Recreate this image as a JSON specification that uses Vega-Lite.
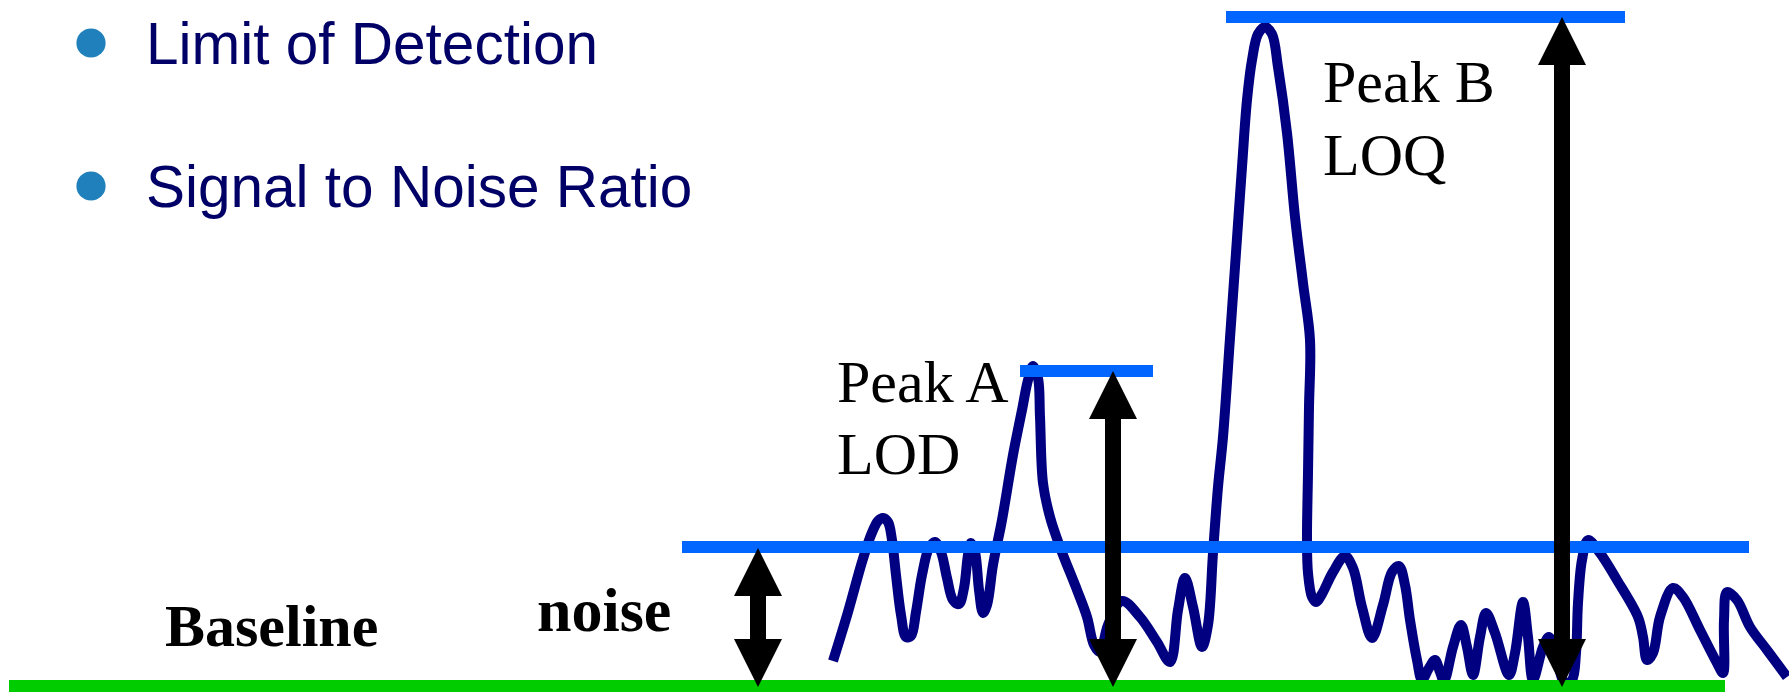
{
  "$schema": "https://vega.github.io/schema/vega-lite/v6.json",
  "width": 1789,
  "height": 692,
  "padding": 0,
  "autosize": {"type": "none"},
  "background": "white",
  "config": {"view": {"stroke": null}},
  "encoding": {
    "x": {"field": "x", "type": "quantitative", "scale": {"domain": [0, 1789], "nice": false, "zero": false}, "axis": null},
    "y": {"field": "y", "type": "quantitative", "scale": {"domain": [0, 692], "nice": false, "zero": false, "reverse": true}, "axis": null}
  },
  "layer": [
    {
      "data": {"values": [
        {"i":1,"x":833,"y":661},{"i":2,"x":848,"y":612},{"i":3,"x":862,"y":562},{"i":4,"x":871,"y":535},{"i":5,"x":878,"y":521},{"i":6,"x":883,"y":518},{"i":7,"x":888,"y":522},{"i":8,"x":892,"y":540},{"i":9,"x":896,"y":575},{"i":10,"x":901,"y":615},{"i":11,"x":906,"y":637},{"i":12,"x":911,"y":636},{"i":13,"x":916,"y":612},{"i":14,"x":922,"y":575},{"i":15,"x":929,"y":548},{"i":16,"x":935,"y":542},{"i":17,"x":941,"y":552},{"i":18,"x":947,"y":578},{"i":19,"x":953,"y":600},{"i":20,"x":959,"y":604},{"i":21,"x":964,"y":588},{"i":22,"x":968,"y":555},{"i":23,"x":971,"y":543},{"i":24,"x":975,"y":552},{"i":25,"x":979,"y":590},{"i":26,"x":983,"y":613},{"i":27,"x":987,"y":605},{"i":28,"x":993,"y":565},{"i":29,"x":1002,"y":520},{"i":30,"x":1013,"y":455},{"i":31,"x":1022,"y":410},{"i":32,"x":1028,"y":380},{"i":33,"x":1033,"y":366},{"i":34,"x":1038,"y":378},{"i":35,"x":1040,"y":417},{"i":36,"x":1043,"y":483},{"i":37,"x":1050,"y":517},{"i":38,"x":1060,"y":547},{"i":39,"x":1077,"y":590},{"i":40,"x":1087,"y":617},{"i":41,"x":1094,"y":645},{"i":42,"x":1100,"y":652},{"i":43,"x":1108,"y":625},{"i":44,"x":1122,"y":601},{"i":45,"x":1140,"y":617},{"i":46,"x":1157,"y":642},{"i":47,"x":1170,"y":662},{"i":48,"x":1178,"y":610},{"i":49,"x":1185,"y":578},{"i":50,"x":1193,"y":607},{"i":51,"x":1202,"y":647},{"i":52,"x":1208,"y":625},{"i":53,"x":1213,"y":553},{"i":54,"x":1218,"y":487},{"i":55,"x":1223,"y":437},{"i":56,"x":1230,"y":338},{"i":57,"x":1235,"y":267},{"i":58,"x":1242,"y":167},{"i":59,"x":1247,"y":100},{"i":60,"x":1252,"y":60},{"i":61,"x":1258,"y":34},{"i":62,"x":1265,"y":27},{"i":63,"x":1272,"y":34},{"i":64,"x":1278,"y":67},{"i":65,"x":1287,"y":133},{"i":66,"x":1295,"y":217},{"i":67,"x":1303,"y":283},{"i":68,"x":1310,"y":340},{"i":69,"x":1309,"y":407},{"i":70,"x":1308,"y":473},{"i":71,"x":1307,"y":540},{"i":72,"x":1308,"y":573},{"i":73,"x":1312,"y":597},{"i":74,"x":1316,"y":602},{"i":75,"x":1322,"y":594},{"i":76,"x":1333,"y":572},{"i":77,"x":1345,"y":556},{"i":78,"x":1353,"y":568},{"i":79,"x":1362,"y":607},{"i":80,"x":1372,"y":638},{"i":81,"x":1383,"y":605},{"i":82,"x":1392,"y":572},{"i":83,"x":1399,"y":566},{"i":84,"x":1405,"y":585},{"i":85,"x":1410,"y":620},{"i":86,"x":1417,"y":660},{"i":87,"x":1422,"y":680},{"i":88,"x":1429,"y":668},{"i":89,"x":1435,"y":660},{"i":90,"x":1440,"y":672},{"i":91,"x":1444,"y":681},{"i":92,"x":1453,"y":647},{"i":93,"x":1461,"y":625},{"i":94,"x":1467,"y":647},{"i":95,"x":1473,"y":675},{"i":96,"x":1480,"y":637},{"i":97,"x":1486,"y":613},{"i":98,"x":1495,"y":633},{"i":99,"x":1509,"y":675},{"i":100,"x":1515,"y":653},{"i":101,"x":1523,"y":602},{"i":102,"x":1528,"y":637},{"i":103,"x":1533,"y":680},{"i":104,"x":1543,"y":647},{"i":105,"x":1549,"y":637},{"i":106,"x":1557,"y":660},{"i":107,"x":1565,"y":683},{"i":108,"x":1572,"y":680},{"i":109,"x":1576,"y":653},{"i":110,"x":1578,"y":603},{"i":111,"x":1582,"y":560},{"i":112,"x":1588,"y":540},{"i":113,"x":1600,"y":553},{"i":114,"x":1617,"y":580},{"i":115,"x":1638,"y":617},{"i":116,"x":1643,"y":637},{"i":117,"x":1647,"y":660},{"i":118,"x":1653,"y":653},{"i":119,"x":1660,"y":617},{"i":120,"x":1673,"y":588},{"i":121,"x":1683,"y":597},{"i":122,"x":1700,"y":630},{"i":123,"x":1717,"y":663},{"i":124,"x":1723,"y":673},{"i":125,"x":1724,"y":620},{"i":126,"x":1727,"y":592},{"i":127,"x":1737,"y":600},{"i":128,"x":1750,"y":627},{"i":129,"x":1767,"y":650},{"i":130,"x":1787,"y":677}
      ]},
      "mark": {"type": "line", "interpolate": "catmull-rom", "stroke": "#000080", "strokeWidth": 10, "strokeJoin": "round", "clip": true},
      "encoding": {"order": {"field": "i", "type": "quantitative"}}
    },
    {
      "data": {"values": [{"x": 9, "x2": 1725, "y": 686}]},
      "mark": {"type": "rule", "stroke": "#00CC00", "strokeWidth": 12},
      "encoding": {"x2": {"field": "x2"}}
    },
    {
      "data": {"values": [
        {"x": 682, "x2": 1749, "y": 547},
        {"x": 1020, "x2": 1153, "y": 371},
        {"x": 1226, "x2": 1625, "y": 17}
      ]},
      "mark": {"type": "rule", "stroke": "#0066FF", "strokeWidth": 12},
      "encoding": {"x2": {"field": "x2"}}
    },
    {
      "data": {"values": [
        {"x": 758, "y": 594, "y2": 641},
        {"x": 1113, "y": 417, "y2": 641},
        {"x": 1562, "y": 63, "y2": 641}
      ]},
      "mark": {"type": "rule", "stroke": "black", "strokeWidth": 16},
      "encoding": {"y2": {"field": "y2"}}
    },
    {
      "data": {"values": [
        {"x": 758, "y": 548},
        {"x": 1113, "y": 371},
        {"x": 1562, "y": 17}
      ]},
      "mark": {"type": "point", "shape": "M0,0L1,2L-1,2Z", "size": 2304, "filled": true, "color": "black", "opacity": 1, "strokeWidth": 0}
    },
    {
      "data": {"values": [
        {"x": 758, "y": 687},
        {"x": 1113, "y": 687},
        {"x": 1562, "y": 687}
      ]},
      "mark": {"type": "point", "shape": "M0,0L1,-2L-1,-2Z", "size": 2304, "filled": true, "color": "black", "opacity": 1, "strokeWidth": 0}
    },
    {
      "data": {"values": [{"x": 91, "y": 43}, {"x": 91, "y": 186}]},
      "mark": {"type": "point", "shape": "circle", "size": 855, "filled": true, "color": "#1F80BB", "opacity": 1, "strokeWidth": 0}
    },
    {
      "data": {"values": [
        {"x": 146, "y": 64, "label": "Limit of Detection"},
        {"x": 146, "y": 207, "label": "Signal to Noise Ratio"}
      ]},
      "mark": {"type": "text", "font": "Liberation Sans", "fontSize": 58.5, "color": "#000066", "align": "left", "baseline": "alphabetic"},
      "encoding": {"text": {"field": "label"}}
    },
    {
      "data": {"values": [
        {"x": 837, "y": 402, "label": "Peak A"},
        {"x": 837, "y": 474, "label": "LOD"},
        {"x": 1323, "y": 102, "label": "Peak B"},
        {"x": 1323, "y": 175, "label": "LOQ"}
      ]},
      "mark": {"type": "text", "font": "Liberation Serif", "fontSize": 60, "color": "black", "align": "left", "baseline": "alphabetic"},
      "encoding": {"text": {"field": "label"}}
    },
    {
      "data": {"values": [{"x": 165, "y": 646, "label": "Baseline"}]},
      "mark": {"type": "text", "font": "Liberation Serif", "fontWeight": "bold", "fontSize": 60, "color": "black", "align": "left", "baseline": "alphabetic"},
      "encoding": {"text": {"field": "label"}}
    },
    {
      "data": {"values": [{"x": 537, "y": 631, "label": "noise"}]},
      "mark": {"type": "text", "font": "Liberation Serif", "fontWeight": "bold", "fontSize": 62, "color": "black", "align": "left", "baseline": "alphabetic"},
      "encoding": {"text": {"field": "label"}}
    }
  ]
}
